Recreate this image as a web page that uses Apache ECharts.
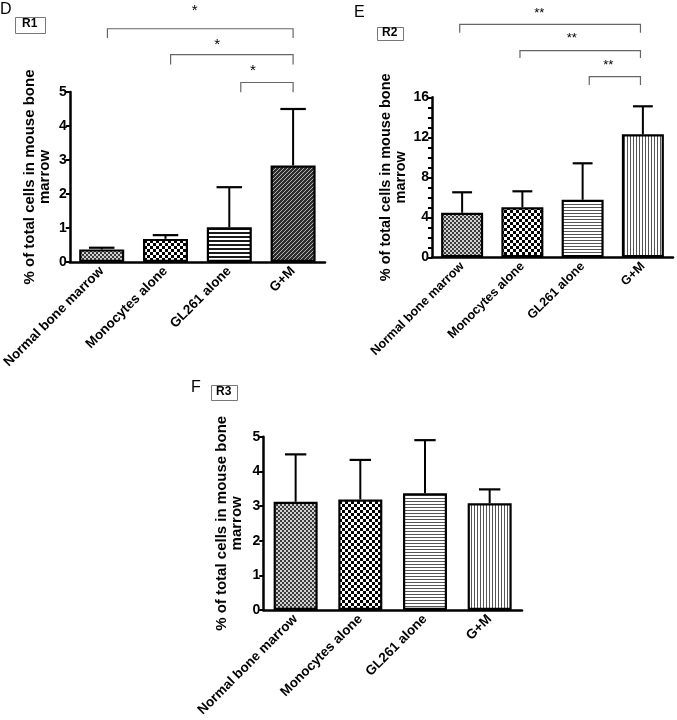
<!DOCTYPE html>
<html><head><meta charset="utf-8">
<script src="https://cdn.jsdelivr.net/npm/echarts@6/dist/echarts.min.js"></script>
<style>html,body{margin:0;padding:0;background:#fff}#c{width:677px;height:720px}</style>
</head><body><div id="c"></div>
<script>
// ---- data ----
const categories = ['Normal bone marrow', 'Monocytes alone', 'GL261 alone', 'G+M'];
const r1Mean = [0.37, 0.68, 1.02, 2.84];
const r1SD   = [0.05, 0.11, 1.18, 1.66];
const r2Mean = [4.45, 5.0, 5.75, 12.3];
const r2SD   = [2.05, 1.6, 3.65, 2.8];
const r3Mean = [3.12, 3.19, 3.37, 3.08];
const r3SD   = [1.37, 1.14, 1.53, 0.40];
const r1Ticks = {min: 0, max: 5, interval: 1};
const r2Ticks = {min: 0, max: 16, interval: 4};
const r3Ticks = {min: 0, max: 5, interval: 1};
// significance comparisons: group indices and label
const r1Sig = [{from: 0, to: 3, label: '*'}, {from: 1, to: 3, label: '*'}, {from: 2, to: 3, label: '*'}];
const r2Sig = [{from: 0, to: 3, label: '**'}, {from: 1, to: 3, label: '**'}, {from: 2, to: 3, label: '**'}];

// ---- bracket layout (value units of each axis) ----
const r1SigLayout = [
  {top: 6.86, leg: 6.59, star: 7.40, dFrom: 0.09, dTo: 0.0, sPos: 0.47},
  {top: 6.10, leg: 5.81, star: 6.39, dFrom: 0.08, dTo: 0.0, sPos: 0.38},
  {top: 5.28, leg: 4.99, star: 5.62, dFrom: 0.18, dTo: 0.0, sPos: 0.23}
];
const r2SigLayout = [
  {top: 23.3, leg: 22.46, star: 24.4, dFrom: -0.04, dTo: -0.04, sPos: 0.44},
  {top: 20.66, leg: 19.93, star: 21.9, dFrom: -0.04, dTo: -0.04, sPos: 0.43},
  {top: 18.06, leg: 17.23, star: 19.2, dFrom: 0.11, dTo: -0.04, sPos: 0.37}
];

const FONT = "'Liberation Sans', Arial, sans-serif";

function pat(w, h, draw) {
  const c = document.createElement('canvas');
  c.width = w; c.height = h;
  const g = c.getContext('2d');
  draw(g, w, h);
  return {image: c, repeat: 'repeat'};
}
const fine = () => pat(4, 4, g => { g.fillStyle = '#d0d0d0'; g.fillRect(0,0,4,4); g.fillStyle = '#3c3c3c'; g.fillRect(0,0,2,2); g.fillRect(2,2,2,2); });
const checker = () => pat(6, 6, g => { g.fillStyle = '#fff'; g.fillRect(0,0,6,6); g.fillStyle = '#000'; g.fillRect(0,0,3,3); g.fillRect(3,3,3,3); });
const hstripeDark = () => pat(4, 4, g => { g.fillStyle = '#fff'; g.fillRect(0,0,4,4); g.fillStyle = '#1a1a1a'; g.fillRect(0,0,4,2); });
const hstripe = () => pat(4, 3, g => { g.fillStyle = '#fff'; g.fillRect(0,0,4,3); g.fillStyle = '#555'; g.fillRect(0,0,4,1); });
const vstripe = () => pat(3, 4, g => { g.fillStyle = '#fff'; g.fillRect(0,0,3,4); g.fillStyle = '#555'; g.fillRect(0,0,1,4); });
const diag = () => pat(4, 4, g => { g.fillStyle = '#2e2e2e'; g.fillRect(0,0,4,4); g.fillStyle = '#b0b0b0'; for (let y = 0; y < 4; y++) g.fillRect(3 - y, y, 1, 1); });

const patsD = [fine(), checker(), hstripeDark(), diag()];
const patsE = [fine(), checker(), hstripe(), vstripe()];
const patsF = [fine(), checker(), hstripe(), vstripe()];

const grids = [
  {left: 63, top: 92, right: 352, bottom: 458},
  {left: 432, top: 97.3, right: 4, bottom: 462.7},
  {left: 263.3, top: 436.7, right: 155, bottom: 110}
];

function xAxis(gi, fs) {
  return {
    type: 'category', gridIndex: gi, data: categories,
    axisLine: {lineStyle: {color: '#000', width: 2.5}},
    axisTick: {alignWithLabel: true, length: 5, lineStyle: {color: '#000', width: 2}},
    axisLabel: {rotate: 45, color: '#000', fontWeight: 'bold', fontSize: fs, fontFamily: FONT, margin: 7, interval: 0}
  };
}
function yAxis(gi, t, gap, minor, fs) {
  return {
    type: 'value', gridIndex: gi, min: t.min, max: t.max, interval: t.interval,
    name: '% of total cells in mouse bone\nmarrow', nameLocation: 'middle', nameGap: gap,
    nameTextStyle: {color: '#000', fontWeight: 'bold', fontSize: fs, fontFamily: FONT, lineHeight: 15},
    axisLine: {show: true, lineStyle: {color: '#000', width: 2.5}},
    axisTick: {show: true, length: 4, lineStyle: {color: '#000', width: 2}},
    minorTick: {show: !!minor, splitNumber: 4, length: 4, lineStyle: {color: '#000', width: 2}},
    splitLine: {show: false},
    axisLabel: {color: '#000', fontWeight: 'bold', fontSize: 14, fontFamily: FONT, margin: 3}
  };
}

function barSeries(gi, means, pats, bw) {
  return {
    type: 'bar', xAxisIndex: gi, yAxisIndex: gi, barWidth: bw,
    data: means.map((v, i) => ({value: v, itemStyle: {color: pats[i], borderColor: '#000', borderWidth: 2.2}})),
    z: 2
  };
}
function errSeries(gi, means, sds, capFrac) {
  return {
    type: 'custom', xAxisIndex: gi, yAxisIndex: gi, z: 3,
    data: means.map((m, i) => [i, m, m + sds[i]]),
    renderItem(params, api) {
      const x = api.value(0), m = api.value(1), hi = api.value(2);
      const p0 = api.coord([x, m]), p1 = api.coord([x, hi]);
      const half = api.size([1, 0])[0] * capFrac / 2;
      return {type: 'group', children: [
        {type: 'line', shape: {x1: p0[0], y1: p0[1], x2: p1[0], y2: p1[1]}, style: {stroke: '#000', lineWidth: 2}},
        {type: 'line', shape: {x1: p1[0] - half, y1: p1[1], x2: p1[0] + half, y2: p1[1]}, style: {stroke: '#000', lineWidth: 2.2}}
      ]};
    }
  };
}
function sigSeries(gi, sig, layout, fontSize) {
  return {
    type: 'custom', xAxisIndex: gi, yAxisIndex: gi, z: 4, clip: false,
    data: sig.map((s, i) => [s.from, layout[i].top]),
    renderItem(params, api) {
      const s = sig[params.dataIndex], L = layout[params.dataIndex];
      const band = api.size([1, 0])[0];
      const a = api.coord([s.from, L.top]), b = api.coord([s.to, L.top]);
      const xa = a[0] + L.dFrom * band, xb = b[0] + L.dTo * band;
      const yTop = a[1], yLeg = api.coord([s.from, L.leg])[1], yStar = api.coord([s.from, L.star])[1];
      const xs = xa + (xb - xa) * L.sPos;
      return {type: 'group', children: [
        {type: 'polyline', shape: {points: [[xa, yLeg], [xa, yTop], [xb, yTop], [xb, yLeg]]}, style: {stroke: '#666', lineWidth: 1.2, fill: null}},
        {type: 'text', style: {text: s.label, x: xs, y: yStar, font: fontSize + 'px ' + FONT, fill: '#000',
          textAlign: 'center', textVerticalAlign: 'middle', align: 'center', verticalAlign: 'middle'}}
      ]};
    }
  };
}

function panelLabel(letter, lx, ly, rx, ry, rw, rh, rtext) {
  return [
    {type: 'text', left: lx, top: ly, style: {text: letter, font: '16px ' + FONT, fill: '#000'}},
    {type: 'rect', left: rx, top: ry, shape: {width: rw, height: rh}, style: {stroke: '#777', lineWidth: 1, fill: '#fff'}},
    {type: 'text', left: rx + rw / 2 - 8, top: ry + rh / 2 - 7, style: {text: rtext, font: 'bold 12px ' + FONT, fill: '#000'}}
  ];
}

const chart = echarts.init(document.getElementById('c'));
chart.setOption({
  animation: false,
  backgroundColor: '#fff',
  grid: grids,
  xAxis: [xAxis(0, 13.5), xAxis(1, 12.6), xAxis(2, 13.5)],
  yAxis: [yAxis(0, r1Ticks, 17, false, 15), yAxis(1, r2Ticks, 24, true, 14.5), yAxis(2, r3Ticks, 19, false, 15)],
  series: [
    barSeries(0, r1Mean, patsD, 45), errSeries(0, r1Mean, r1SD, 0.4), sigSeries(0, r1Sig, r1SigLayout, 15),
    barSeries(1, r2Mean, patsE, 42), errSeries(1, r2Mean, r2SD, 0.33), sigSeries(1, r2Sig, r2SigLayout, 13),
    barSeries(2, r3Mean, patsF, 44), errSeries(2, r3Mean, r3SD, 0.33)
  ],
  graphic: [].concat(
    panelLabel('D', 0, 2, 15, 17, 30, 16, 'R1'),
    panelLabel('E', 354, 5, 377, 27, 26, 13, 'R2'),
    panelLabel('F', 191, 380, 211, 385, 26, 15, 'R3')
  )
});
</script></body></html>
